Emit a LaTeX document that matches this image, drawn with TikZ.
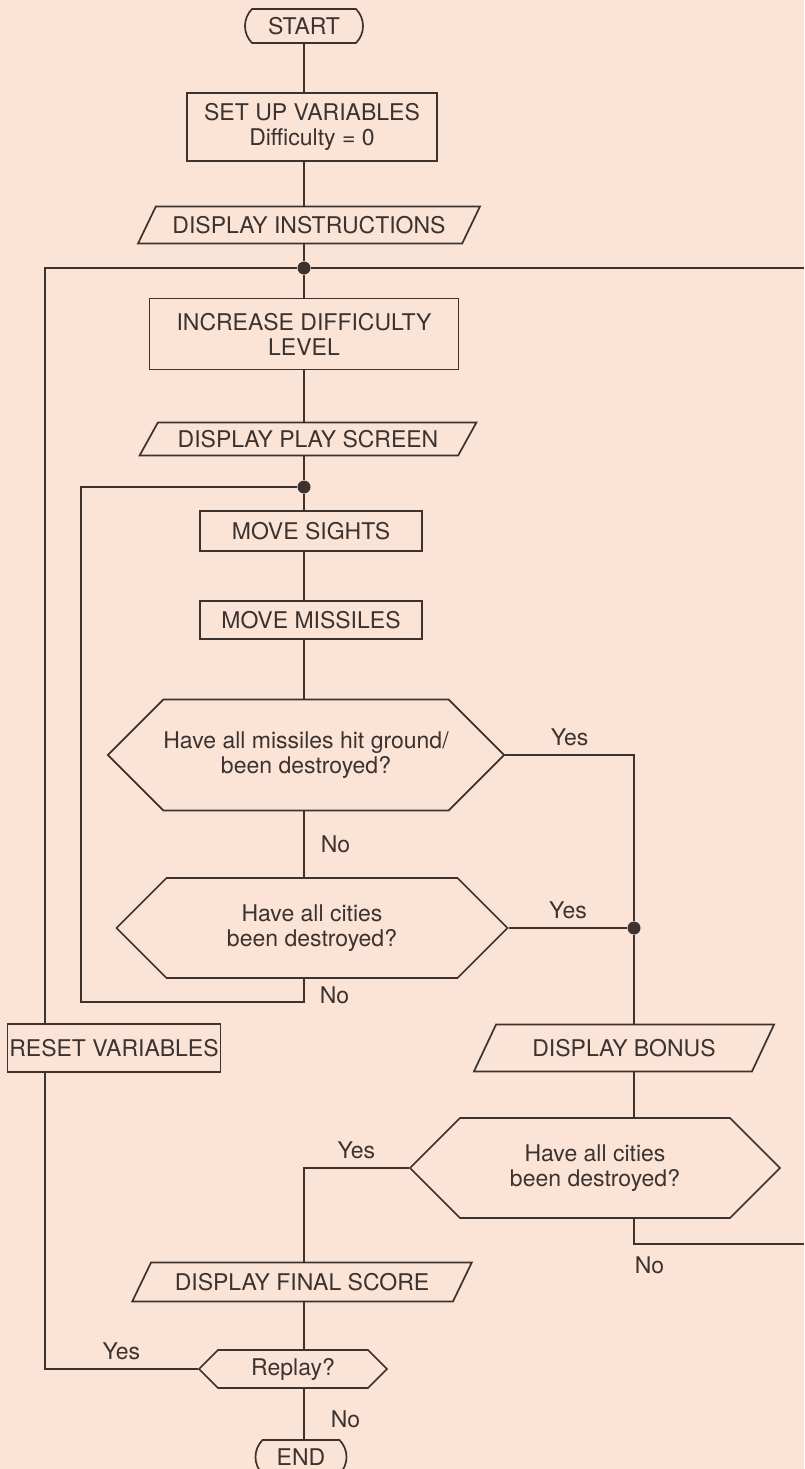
\documentclass[tikz,border=0pt]{standalone}
\usepackage{fontspec}
\setmainfont{TeX Gyre Heros}
\usepackage{tikz}
\usetikzlibrary{positioning,shapes.geometric,shapes.misc,shapes.symbols}
\definecolor{paper}{RGB}{251,228,214}
\definecolor{ink}{RGB}{60,50,48}

\begin{document}
\begin{tikzpicture}[
  x=1pt, y=-1pt,
  font=\fontsize{23}{25}\selectfont,
  line/.style={draw=ink, line width=1.7pt},
  term/.style={line, rounded rectangle, rounded rectangle arc length=90, minimum width=118pt, minimum height=34pt, inner sep=0pt, text=ink},
  proc/.style={line, rectangle, align=center, inner sep=0pt, text=ink},
  io/.style={line, trapezium, trapezium left angle=48, trapezium right angle=132, trapezium stretches=true, inner sep=0pt, text=ink},
  dec/.style={line, signal, signal to=west and east, signal pointer angle=90, align=center, inner sep=0pt, text=ink},
  dot/.style={circle, fill=ink, inner sep=0pt, minimum size=13pt},
  lbl/.style={inner sep=0pt, text=ink}
]
\fill[paper] (0,0) rectangle (804,1469);
\useasboundingbox (0,0) rectangle (804,1469);

% main column
\coordinate (axis) at (304,0);
\node[term] (start) at (304,26) {START};
\node[proc, minimum width=250pt, minimum height=68pt] (setup) at (312,127) {SET UP VARIABLES\\Difficulty = 0};
\node[io, minimum width=342pt, minimum height=37pt] (instr) at (309,225) {DISPLAY INSTRUCTIONS};
\node[dot] (jtop) at (304,268) {};
\node[proc, minimum width=309pt, minimum height=71pt] (incr) at (304,334) {INCREASE DIFFICULTY\\LEVEL};
\node[io, minimum width=337pt, minimum height=33pt] (play) at (308,439) {DISPLAY PLAY SCREEN};
\node[dot] (jloop) at (304,487) {};
\node[proc, minimum width=222pt, minimum height=40pt] (sights) at (311,531) {MOVE SIGHTS};
\node[proc, minimum width=222pt, minimum height=38pt] (missiles) at (311,620) {MOVE MISSILES};
\node[dec, minimum width=378pt, minimum height=111pt] (hit) at (306,755) {Have all missiles hit ground/\\been destroyed?};
\node[dec, minimum width=391pt, minimum height=100pt] (cities) at (312,928) {Have all cities\\been destroyed?};

% right branch
\node[dot] (jbonus) at (634,928) {};
\node[io, minimum width=301pt, minimum height=47pt] (bonus) at (624,1048) {DISPLAY BONUS};
\node[dec, minimum width=370pt, minimum height=100pt] (cities2) at (595,1168) {Have all cities\\been destroyed?};

% end of game
\node[proc, minimum width=213pt, minimum height=48pt] (reset) at (114,1048) {RESET VARIABLES};
\node[io, minimum width=341pt, minimum height=39pt] (final) at (302,1282) {DISPLAY FINAL SCORE};
\node[dec, minimum width=188pt, minimum height=38pt] (replay) at (293,1369) {Replay?};
\node[term, minimum width=91pt] (end) at (301,1457) {END};

\coordinate (retl) at (45,268);
\coordinate (offr) at (804,268);
\coordinate (loopl) at (81,1002);
\coordinate (offr2) at (804,1244);

\draw[line] (start) -- (axis |- setup.north);
\draw[line] (axis |- setup.south) -- (axis |- instr.north);
\draw[line] (axis |- instr.south) -- (jtop);
\draw[line] (jtop) -- (incr);
\draw[line] (incr) -- (axis |- play.north);
\draw[line] (axis |- play.south) -- (jloop);
\draw[line] (jloop) -- (axis |- sights.north);
\draw[line] (axis |- sights.south) -- (axis |- missiles.north);
\draw[line] (axis |- missiles.south) -- (axis |- hit.north);
\draw[line] (axis |- hit.south) -- node[lbl, right=16pt] {No} (axis |- cities.north);
\draw[line] (axis |- cities.south) -- node[lbl, pos=0.7, right=15pt] {No} (axis |- loopl) -- (loopl) |- (jloop);
\draw[line] (hit.east) -- node[lbl, above=8pt] {Yes} (hit.east -| jbonus) -- (jbonus);
\draw[line] (cities.east) -- node[lbl, above=8pt] {Yes} (jbonus);
\draw[line] (jbonus) -- (jbonus |- bonus.north);
\draw[line] (jbonus |- bonus.south) -- (jbonus |- cities2.north);
\draw[line] (cities2.west) -- node[lbl, above=8pt] {Yes} (cities2.west -| axis) -- (axis |- final.north);
\draw[line] (jbonus |- cities2.south) -- (jbonus |- offr2) node[lbl, below right=12pt and 0pt] {No} -- (offr2);
\draw[line] (axis |- final.south) -- (axis |- replay.north);
\draw[line] (axis |- replay.south) -- node[lbl, pos=0.6, right=26pt] {No} (axis |- end.north);
\draw[line] (replay.west) -- node[lbl, above=8pt] {Yes} (retl |- replay.west) -- (retl |- reset.south);
\draw[line] (retl |- reset.north) -- (retl) -- (jtop) -- (offr);
\end{tikzpicture}
\end{document}
